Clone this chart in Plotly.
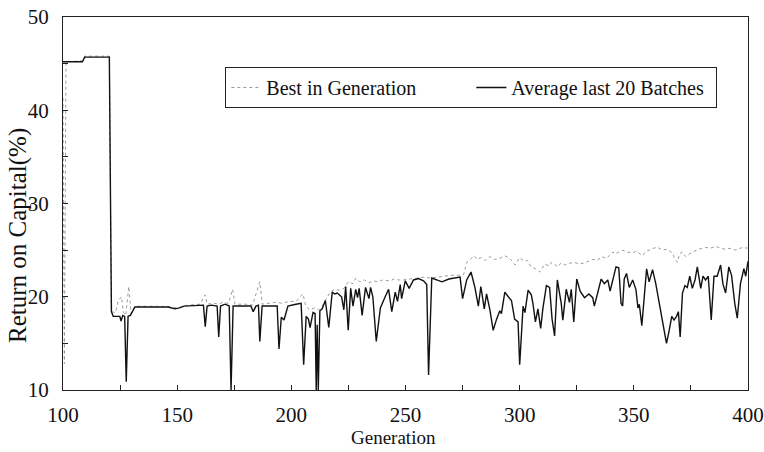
import plotly.graph_objects as go

# ---- data ----
avg_gen = [100, 108.5, 109.5, 120.3, 121.2, 122, 124.9, 125.4, 126.2, 127.0, 127.7, 128.5, 129.5, 131.5,
           141, 146, 149, 151, 153, 156, 159, 161.5, 162.3, 163.1, 165, 167.5, 168.2, 169, 171, 172.8,
           173.6, 174.5, 176, 182.3, 183.3, 184.5, 185.6, 186.2, 187.2, 190, 193.8, 194.6, 195.6, 196.8,
           198.5, 202, 204.3, 205.4, 206.5, 207.5, 208.2, 209.5, 210.4, 210.9, 211.3, 211.8, 212.5, 213.5,
           214.9, 216.4, 217.9, 219, 220.1, 222, 223, 223.8, 224.9, 226, 227, 228.2, 229, 229.7, 231,
           232.5, 234, 234.7, 235.7, 237.2, 239, 241.1, 242.6, 244, 245.5, 246.5, 247.7, 248.3, 249.9,
           251.6, 253.5, 255.7, 257.9, 259.3, 260.1, 261.5, 264, 266, 269, 271, 273.9, 275, 276.8, 278.7,
           280.4, 281.9, 283, 284.5, 285.5, 287, 288.4, 289.9, 291.3, 292, 293.5, 295, 296.4, 297.8,
           299.3, 300, 301.5, 302.3, 303.7, 305.1, 305.8, 306.9, 308, 309.2, 310.2, 311.7, 313.1, 314.2,
           315.3, 316.5, 318.2, 318.9, 320.4, 321.8, 322.6, 323.7, 325, 326.5, 328.4, 330.3, 332, 332.7,
           334.2, 335.7, 337.1, 338.6, 339.6, 340.8, 342.2, 343.4, 344.4, 345.1, 345.8, 346.8, 348, 349.5,
           350.9, 351.8, 352.4, 353.5, 354.6, 355.6, 356.7, 358.2, 359.6, 361.4, 362.5, 364.3, 365.5,
           366.6, 367.6, 368.7, 369.5, 370.3, 371.3, 372.4, 373.4, 374.5, 375.6, 376.8, 377.8, 379.3,
           380.3, 381.4, 382.6, 383.9, 385.1, 386.5, 388, 389, 390.2, 391.6, 392.8, 394.2, 395.3, 396.7,
           398.2, 399, 400]
avg_val = [45.2, 45.2, 45.7, 45.7, 18.4, 17.9, 17.9, 17.4, 18.0, 17.9, 10.9, 17.9, 18.0, 18.9,
           18.9, 18.9, 18.7, 18.8, 19.0, 19.05, 19.1, 19.1, 16.8, 19.0, 19.1, 19.0, 15.7, 19.0, 19.2, 19.0,
           10.0, 19.0, 19.0, 19.0, 18.4, 19.0, 19.1, 15.2, 19.0, 19.0, 19.0, 14.4, 17.8, 17.5,
           19.0, 19.2, 19.3, 12.7, 17.9, 17.6, 16.7, 18.3, 18.2, 10.0, 17.0, 10.0, 18.5, 18.7,
           19.6, 16.7, 20.5, 20.3, 20.4, 20.0, 18.6, 21.1, 16.4, 20.9, 19.0, 20.8, 19.9, 20.9, 18.0,
           21.0, 19.8, 21.0, 20.0, 15.2, 18.8, 20.0, 20.8, 18.4, 20.5, 19.5, 21.3, 19.8, 21.7,
           20.9, 21.8, 21.95, 21.7, 21.3, 11.6, 22.0, 21.8, 21.6, 21.9, 22.0, 22.1, 19.8, 21.8, 22.65,
           21.0, 19.0, 21.1, 18.7, 20.3, 18.55, 16.4, 17.6, 18.5, 18.2, 20.5, 20.0, 19.6, 17.6,
           17.3, 12.7, 19.0, 18.3, 20.7, 20.2, 19.3, 17.3, 18.7, 16.6, 18.8, 21.2, 21.0, 17.6,
           15.8, 21.8, 19.3, 17.5, 20.8, 19.4, 20.8, 17.3, 21.9, 20.6, 19.9, 20.3, 19.9, 19.0,
           20.5, 21.9, 21.4, 21.8, 20.6, 21.8, 23.2, 23.1, 19.3, 19.0, 21.9, 22.5, 21.0, 21.8,
           20.8, 18.8, 19.2, 16.9, 19.9, 23.0, 21.6, 22.9, 21.4, 18.9, 17.8, 15.0, 16.4,
           17.9, 17.5, 17.9, 18.4, 15.7, 20.4, 21.2, 21.0, 22.2, 20.9, 21.8, 23.2, 20.9,
           22.2, 21.8, 22.2, 17.5, 22.2, 22.2, 23.4, 21.4, 20.4, 23.2, 22.3, 19.3, 17.7, 21.4,
           23.0, 22.2, 23.8]

best_gen = [100, 100.6, 101.3, 108.5, 109.5, 120.3, 121.2, 123, 124.2, 125.6, 126.5, 127.5, 128.8, 129.8,
            131.5, 141, 146, 150, 155, 160, 162.2, 163.2, 166, 168.2, 170, 172.5, 174.3, 175.3, 180, 183,
            186.2, 187.3, 190, 193, 196, 199, 202, 205.1, 206.3, 208, 210, 212, 213.5, 215, 217, 219, 221,
            223, 225, 227, 228.3, 230, 232, 234, 236, 238, 240, 243, 245, 247, 249, 252, 255, 258, 261,
            264, 267, 270, 273, 275.5, 276.8, 278, 280, 281.5, 283, 285, 287, 289, 291, 293.5, 295, 296.4,
            298, 300, 302, 303.5, 305, 307, 308.8, 310, 311, 313, 314, 316.8, 318, 320, 322, 324, 326, 328,
            330, 332, 334, 336, 338, 340.8, 342, 344, 345.1, 347, 349.5, 351, 353.8, 355, 356.7, 358.5,
            360.4, 362.5, 364.5, 366.9, 368, 369.1, 370, 371.3, 372.7, 374.5, 375.6, 378.5, 381.4, 383.5,
            385.8, 388, 390, 392, 394.5, 396.5, 398.2, 399.6, 400]
best_val = [41.3, 12.8, 45.2, 45.3, 45.8, 45.8, 18.4, 18.3, 19.6, 20.0, 18.3, 18.0, 21.1, 18.2,
            19.0, 18.95, 18.95, 18.8, 19.1, 19.2, 20.2, 19.2, 19.3, 19.2, 19.4, 19.3, 20.8, 19.2, 19.2, 19.1,
            21.6, 19.2, 19.3, 19.4, 19.3, 19.5, 19.5, 20.3, 19.0, 18.6, 18.8, 18.6, 19.0, 19.7, 20.5, 20.8, 20.7,
            20.9, 21.6, 21.4, 22.0, 21.6, 21.8, 21.5, 21.7, 21.6, 21.8, 21.7, 21.9, 21.8, 21.8, 21.9, 22.0, 22.1, 22.0,
            22.1, 22.2, 22.3, 22.3, 22.4, 23.7, 23.9, 24.4, 24.0, 24.2, 23.9, 24.3, 24.0, 24.1, 24.4, 24.2, 23.9,
            23.4, 24.2, 23.8, 23.9, 23.2, 23.0, 22.65, 23.1, 23.5, 23.3, 23.7, 23.2, 23.6, 23.4, 23.6, 23.7, 23.5, 23.6,
            23.8, 24.0, 23.9, 24.3, 24.1, 24.8, 24.6, 24.9, 25.0, 24.8, 24.7, 24.9, 24.4, 24.8, 25.0, 25.2,
            25.3, 25.0, 25.1, 24.7, 24.0, 23.7, 24.6, 24.8, 24.3, 24.6, 24.8, 25.1, 25.3, 25.2,
            25.4, 25.2, 25.1, 25.2, 25.0, 25.2, 25.3, 25.2, 25.3]

x_ticks = [100, 150, 200, 250, 300, 350, 400]
y_ticks = [10, 20, 30, 40, 50]
x_title = "Generation"
y_title = "Return on Capital(%)"

FONT = "Liberation Serif"

fig = go.Figure()
fig.add_trace(go.Scatter(x=best_gen, y=best_val, mode="lines", name="Best in Generation",
                         line=dict(color="#9a9a9a", width=1, dash="dot")))
fig.add_trace(go.Scatter(x=avg_gen, y=avg_val, mode="lines", name="Average last 20 Batches",
                         line=dict(color="#111111", width=1.4)))

axis_common = dict(showgrid=False, zeroline=False, showline=True, linecolor="#222222", linewidth=1,
                   mirror=True, ticks="inside", ticklen=5, tickcolor="#222222", automargin=False,
                   ticklabeloverflow="allow",
                   tickfont=dict(family=FONT, size=21, color="#111111"))

fig.update_xaxes(range=[100, 400], tickvals=x_ticks, ticklabelstandoff=6,
                 minor=dict(dtick=25, ticks="inside", ticklen=5, tickcolor="#222222"),
                 **axis_common)
fig.update_yaxes(range=[10, 50], tickvals=y_ticks, ticklabelstandoff=9,
                 minor=dict(dtick=5, ticks="inside", ticklen=5, tickcolor="#222222"),
                 **axis_common)

fig.add_annotation(text=x_title, xref="paper", yref="paper", x=0.483, y=-0.128,
                   xanchor="center", yanchor="middle", showarrow=False,
                   font=dict(family=FONT, size=19, color="#111111"))
fig.add_annotation(text=y_title, xref="paper", yref="paper", x=-0.066, y=0.415,
                   xanchor="center", yanchor="middle", showarrow=False, textangle=-90,
                   font=dict(family=FONT, size=25, color="#111111"))

fig.update_layout(
    width=764, height=452,
    margin=dict(l=63, r=16, t=17, b=62),
    paper_bgcolor="white", plot_bgcolor="white",
    showlegend=True,
    legend=dict(orientation="h", x=0.237, y=0.866, xanchor="left", yanchor="top",
                bgcolor="white", bordercolor="#222222", borderwidth=1,
                font=dict(family=FONT, size=20, color="#111111"),
                itemwidth=30, entrywidth=200, tracegroupgap=0),
)

fig.write_html("out.html")
